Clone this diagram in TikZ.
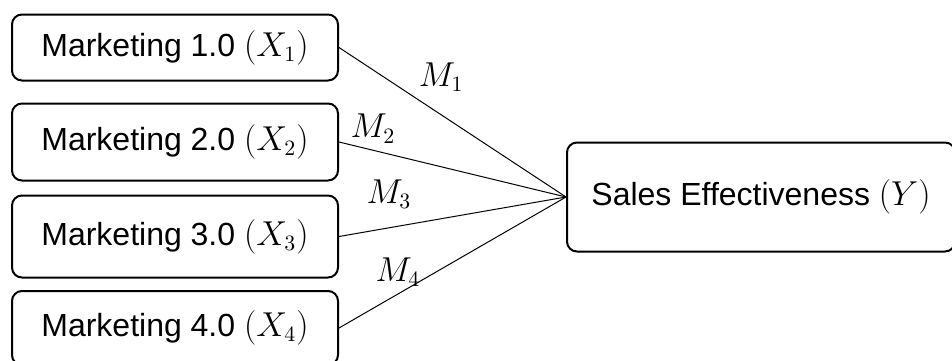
\documentclass[tikz,border=0pt]{standalone}
\usepackage{fontspec}
\setmainfont{Liberation Sans}
\tikzset{
  block/.style={draw, line width=1pt, rounded corners=5pt, align=center,
    font=\fontsize{16}{19}\selectfont},
  factor/.style={block, minimum width=163pt},
  link/.style={line width=0.5pt},
  every label node/.style={font=\fontsize{16}{19}\selectfont},
}

\begin{document}
\begin{tikzpicture}[x=0.5pt, y=-0.5pt]
        \useasboundingbox (0,0) rectangle (952,360);

        % blocks
        \node[factor, minimum height=33pt] (x1) at (175,47.5) {Marketing 1.0 $(X_1)$};
        \node[factor, minimum height=38.5pt] (x2) at (175,142) {Marketing 2.0 $(X_2)$};
        \node[factor, minimum height=41pt] (x3) at (175,236.5) {Marketing 3.0 $(X_3)$};
        \node[factor, minimum height=37pt] (x4) at (175,328) {Marketing 4.0 $(X_4)$};
        \node[block, minimum width=194pt, minimum height=54.5pt] (y) at (761,197) {Sales Effectiveness $(Y)$};

        % links
        \draw[link] (x1.east) -- node[pos=0.45, above=8pt, every label node] (m1) {$M_1$} (y.west);
        \draw[link] (x2.east) -- node[pos=0.15, above=0pt, every label node] (m2) {$M_2$} (y.west);
        \draw[link] (x3.east) -- node[pos=0.22, above=6pt, every label node] (m3) {$M_3$} (y.west);
        \draw[link] (x4.east) -- node[pos=0.26, above=0pt, every label node] (m4) {$M_4$} (y.west);
      \end{tikzpicture}
\end{document}
